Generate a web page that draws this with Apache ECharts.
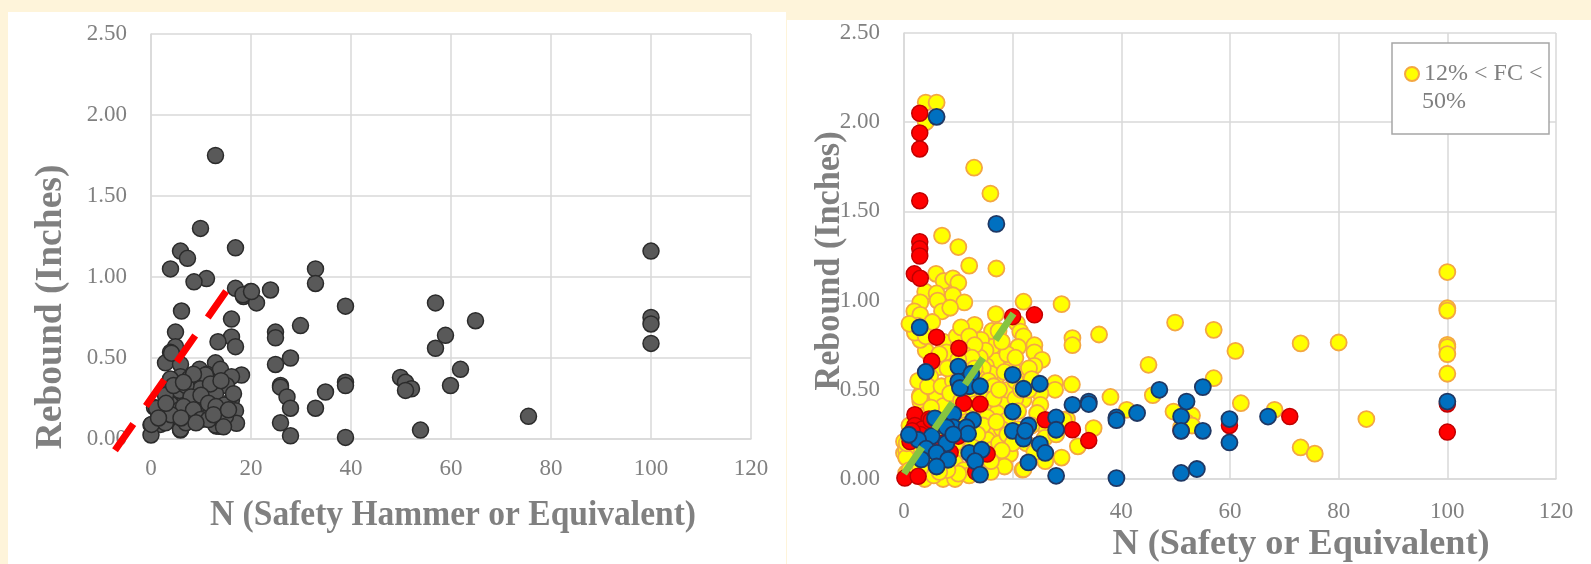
<!DOCTYPE html>
<html>
<head>
<meta charset="utf-8">
<script src="https://cdn.jsdelivr.net/npm/echarts@6/dist/echarts.min.js"></script>
<style>
  html, body { margin: 0; padding: 0; background: #fef4da; }
  #chart { width: 1591px; height: 564px; }
</style>
</head>
<body>
<div id="chart"></div>
<script>
// left chart: all samples [N, rebound]
var allPoints = [
  [100,1.16],[32.9,1.05],[32.9,0.96],[23.9,0.92],[19.9,0.91],[18.5,0.88],[21.1,0.84],[38.9,0.82],
  [56.9,0.84],[64.9,0.73],[58.9,0.64],[56.9,0.56],[100,0.75],[100,0.71],[100,0.59],[29.9,0.70],
  [24.9,0.66],[24.9,0.625],[27.9,0.50],[24.9,0.46],[61.9,0.43],[38.9,0.35],[38.9,0.33],[49.9,0.38],
  [50.9,0.35],[52.1,0.31],[50.9,0.30],[59.9,0.33],[25.9,0.33],[25.9,0.32],[27.2,0.26],[34.9,0.29],
  [27.9,0.19],[32.9,0.19],[25.9,0.10],[27.9,0.02],[38.9,0.01],[53.9,0.055],[75.5,0.14],
  [12.9,1.75],[9.9,1.30],[16.9,1.18],[5.9,1.16],[7.3,1.115],[3.9,1.05],[11.1,0.99],[8.6,0.97],
  [16.9,0.93],[18.4,0.89],[20.1,0.91],[6.1,0.79],[16.1,0.74],[4.9,0.66],[16.1,0.63],[13.4,0.60],
  [16.9,0.57],[4.9,0.57],[3.9,0.535],[2.9,0.47],[5.9,0.46],[12.9,0.47],[9.7,0.43],[11.2,0.40],
  [13.9,0.43],[18.1,0.395],[16.1,0.385],[5.9,0.385],[7.7,0.375],[3.9,0.37],[12.1,0.345],[9.9,0.32],
  [15.1,0.33],[5.7,0.29],[2.9,0.28],[12.9,0.28],[6.9,0.24],[9.9,0.23],[16.1,0.24],[0.7,0.195],
  [3.9,0.216],[5.7,0.18],[2.9,0.17],[8.1,0.14],[10.9,0.15],[16.9,0.175],[14.9,0.13],[0,0.086],
  [1.9,0.09],[2.9,0.107],[13.1,0.08],[13.6,0.078],[17.1,0.097],[5.9,0.055],[0,0.025],
  [10.9,0.395],[4.1,0.53],[9.9,0.31],[14.7,0.21],[9.9,0.22],[1.1,0.19],[7.7,0.14],[14.9,0.14],
  [12.9,0.086],[14.5,0.075],[5.9,0.06],[0.1,0.09],[2.9,0.10],[11.9,0.34],[5.7,0.30],[2.9,0.27],
  [4.5,0.33],[7,0.33],[8,0.26],[10,0.27],[11.5,0.22],[13,0.2],[6.5,0.2],[8.5,0.18],[10,0.12],
  [11.5,0.12],[12.5,0.15],[7,0.1],[9,0.1],[4,0.15],[6,0.13],[15.5,0.18],[16.5,0.28],[14,0.36],
  [8.5,0.4],[6.5,0.35],[3,0.22],[1.5,0.13]
];
var leftTrend = [-7.2, -0.07, 15.1, 0.915];   // x1, y1, x2, y2

// right chart: 12% < FC < 50%
var fcMidPoints = [
  [4,2.11],[6,2.11],[4,2.0],[12.9,1.745],[15.9,1.60],[7,1.364],[10,1.30],[12,1.196],[17,1.18],
  [5.9,1.15],[7.3,1.11],[9.0,1.125],[10.0,1.10],[3.9,1.05],[6.0,1.04],[9.0,1.03],[11.1,0.99],
  [3.0,0.99],[6.2,1.00],[7.0,0.94],[8.5,0.96],[1.9,0.94],[3.0,0.92],[22.0,0.994],[29.0,0.98],
  [16.9,0.924],[13.0,0.864],[20.8,0.873],[21.4,0.826],[16.2,0.83],[17.4,0.83],[22.0,0.80],[9.9,0.80],
  [31.0,0.79],[31.0,0.75],[35.9,0.81],[49.9,0.877],[21.0,0.74],[24.0,0.75],[24.0,0.71],[16.2,0.74],
  [7.3,0.76],[8.6,0.72],[9.9,0.705],[11.0,0.76],[25.4,0.668],[24.0,0.634],[17.0,0.662],[15.1,0.634],
  [11.9,0.65],[45.0,0.64],[19.9,0.63],[22.0,0.575],[17.1,0.575],[16.0,0.59],[6.4,0.627],[4.8,0.575],
  [3.9,0.53],[3.0,0.47],[3.0,0.435],[6.05,0.47],[6.05,0.425],[7.0,0.51],[30.9,0.53],[27.8,0.537],
  [27.8,0.50],[38.0,0.46],[45.8,0.47],[49.6,0.378],[41.0,0.388],[34.9,0.285],[32.0,0.183],[21.8,0.052],
  [25.1,0.48],[25.1,0.416],[22.0,0.444],[19.9,0.48],[18.0,0.453],[15.9,0.416],[18.7,0.43],[14.0,0.388],
  [17.1,0.37],[15.3,0.345],[16.8,0.276],[15.3,0.22],[16.2,0.165],[26.0,0.295],[25.9,0.23],[26.0,0.10],
  [30.0,0.336],[24.5,0.37],[8.2,0.416],[8.9,0.37],[11.5,0.37],[11.5,0.32],[12.6,0.30],[11.0,0.22],
  [10.1,0.17],[9.4,0.09],[7.3,0.07],[4.2,0.034],[2.4,0.02],[0.4,0.034],[0,0.146],[0,0.21],[1.5,0.10],
  [4.8,0.127],[6.05,0.26],[3.9,0.31],[3.9,0.36],
  [57.0,0.836],[61.0,0.718],[57.0,0.565],[62.0,0.425],[53.0,0.356],[51.9,0.32],[29.4,0.33],[22,0.055],
  [100,1.16],[100,0.957],[100,0.944],[100,0.752],[100,0.74],[100,0.70],[100,0.59],[73,0.76],[80,0.765],
  [68.2,0.388],[85.1,0.336],[73,0.177],[75.6,0.142],
  [7.2,0.77],[9.7,0.80],[7.8,0.71],[2.6,0.55],[2.9,0.46],[6.0,0.47],[4.4,0.52],[6.9,0.52],[7.3,0.41],
  [1.7,0.18],[0.4,0.16],[0.4,0.12],[7.2,0],[3.8,0],[9.4,0],[2,0.05],
  [14.2,0.78],[15,0.72],[14,0.68],[14.5,0.62],[13.5,0.57],[15.5,0.55],[13.5,0.50],[15,0.49],[16.5,0.52],
  [51,0.29],[53,0.30],
  [12,0.45],[10.5,0.5],[12.5,0.4],[9,0.55],[10,0.6],[8,0.62],[5,0.68],[4,0.72],[3,0.78],[2,0.82],
  [2.5,0.86],[1,0.87],[5.2,0.88],[4,0.8],[6.5,0.7],[19,0.5],[20.5,0.45],[21,0.38],[19,0.33],[18,0.28],
  [17.5,0.2],[14.5,0.3],[13.5,0.25],[12.5,0.18],[14,0.1],[17,0.12],[19.5,0.14],[18.5,0.07],[5,0.3],
  [8,0.3],[1,0.3],[2,0.25],[0.5,0.2],[1,0.05],[5.5,0.02],[11,0.05],[12,0.02],[16,0.04],[23,0.5],
  [23.5,0.3],[22.5,0.2],[24,0.15],[28,0.25],[29,0.12],
  [10.5,0.85],[12,0.8],[13,0.75],[11,0.7],[12.5,0.68],[10,0.67],[13,0.62],[11.5,0.58],[14.5,0.45],
  [13,0.42],[16.5,0.45],[17.5,0.5],[18.5,0.6],[19,0.7],[18,0.77],[20.5,0.68],[23,0.62],[20.5,0.55],
  [23.5,0.56],[21.5,0.5],[17,0.32],[19,0.25],[21,0.28],[20,0.2],[18,0.16],[16,0.1],[13.5,0.05],
  [10,0.03],[8,0.05],[3,0.06],[6.5,0.04],[3.5,0.2],[5,0.4],[8.5,0.48],[10.5,0.44],[12.5,0.55],
  [11,0.3],[9.5,0.2]
];

// right chart: red group
var redPoints = [
  [2.9,2.05],[2.9,1.94],[2.9,1.85],[2.9,1.56],[2.9,1.33],[2.9,1.29],[2.9,1.25],[1.9,1.15],[3.0,1.125],
  [6.0,0.795],[10.1,0.733],[5.1,0.66],[11.0,0.425],[14.0,0.42],[2.0,0.36],[2.0,0.30],[4.6,0.336],
  [1.1,0.21],[0.16,0.005],[2.6,0.015],[3.4,0.28],[15.3,0.14],[13.2,0.04],[20.0,0.91],[24.0,0.92],
  [26.0,0.332],[31.0,0.276],[34.0,0.216],[59.9,0.30],[51.0,0.27],[71,0.35],[100,0.42],[100,0.263],
  [5,0.33],[7,0.2],[8.5,0.15],[3,0.25],[10,0.24],[12.5,0.13],[1.5,0.27]
];

// right chart: blue group
var bluePoints = [
  [6.0,2.03],[17.0,1.43],[2.9,0.85],[4.0,0.60],[10.0,0.63],[10.0,0.546],[12.4,0.59],[12.0,0.52],
  [14.0,0.52],[10.3,0.51],[9.06,0.364],[5.7,0.34],[12.7,0.33],[9.06,0.29],[11.5,0.29],[11.8,0.254],
  [5.1,0.24],[2.6,0.22],[0.9,0.248],[7.8,0.20],[4.1,0.17],[6.0,0.146],[8.1,0.108],[6.0,0.07],
  [12.0,0.146],[14.3,0.164],[13.1,0.10],[14.0,0.024],[3.2,0.11],[7.8,0.29],[9.06,0.25],
  [20.0,0.584],[22.0,0.506],[25.0,0.534],[20.0,0.378],[20.0,0.27],[22.0,0.226],[22.9,0.30],[22.3,0.27],
  [25.0,0.196],[26.0,0.146],[22.9,0.093],[28.0,0.345],[28.0,0.276],[28.0,0.018],[31.0,0.416],
  [34.0,0.434],[34.0,0.42],[39.1,0.345],[39.1,0.33],[39.1,0.005],[42.9,0.37],[47.0,0.50],[51.0,0.35],
  [51.0,0.27],[52.0,0.434],[51.0,0.034],[53.9,0.056],[55.0,0.515],[55.0,0.27],[59.9,0.336],
  [59.9,0.205],[67.0,0.35],[100,0.434]
];
var rightTrend = [0, 0.03, 20.2, 0.93];   // x1, y1, x2, y2

var chart = echarts.init(document.getElementById('chart'));

var labelColor = '#808080';
var titleColor = '#808080';
var serif = '"Liberation Serif", "DejaVu Serif", serif';

var measure = document.createElement('canvas').getContext('2d');
var fitScale = (text, font, target) => {
  measure.font = font;
  return target / measure.measureText(text).width;
};

var makeX = (grid, margin) => ({
  type: 'value', gridIndex: grid, min: 0, max: 120, interval: 20,
  axisLine: { show: true, lineStyle: { color: '#d9d9d9', width: 1.5 } },
  axisTick: { show: false },
  splitLine: { show: true, lineStyle: { color: '#d9d9d9', width: 1.5 } },
  axisLabel: { color: labelColor, fontFamily: serif, fontSize: 23, margin: margin }
});
var makeY = grid => ({
  type: 'value', gridIndex: grid, min: 0, max: 2.5, interval: 0.5,
  axisLine: { show: true, lineStyle: { color: '#d9d9d9', width: 1.5 } },
  axisTick: { show: false },
  splitLine: { show: true, lineStyle: { color: '#d9d9d9', width: 1.5 } },
  axisLabel: { color: labelColor, fontFamily: serif, fontSize: 23, margin: 24,
    formatter: v => v.toFixed(2) }
});

var titleText = (text, x, y, size, target, vertical) => {
  var font = 'bold ' + size + 'px ' + serif;
  return {
    type: 'text', x: x, y: y, z: 10,
    rotation: vertical ? Math.PI / 2 : 0,
    scaleX: fitScale(text, font, target),
    style: { text: text, font: font, fill: titleColor, align: 'center', verticalAlign: 'middle' }
  };
};

// dashed trend segment, drawn through the axes so it may run past the plot edge
var trendSeries = (grid, values, color) => ({
  type: 'custom', xAxisIndex: grid, yAxisIndex: grid, z: 5, clip: false,
  data: [values],
  encode: { x: [0, 2], y: [1, 3] },
  renderItem: (params, api) => {
    var p1 = api.coord([api.value(0), api.value(1)]);
    var p2 = api.coord([api.value(2), api.value(3)]);
    return {
      type: 'line',
      shape: { x1: p1[0], y1: p1[1], x2: p2[0], y2: p2[1] },
      style: { stroke: color, lineWidth: 7, lineDash: [32, 22], fill: null }
    };
  }
});

var option = {
  backgroundColor: '#fef4da',
  animation: false,
  grid: [
    { left: 151, top: 34, width: 600, height: 405 },
    { left: 904, top: 33, width: 652, height: 446 }
  ],
  xAxis: [makeX(0, 18), makeX(1, 21)],
  yAxis: [makeY(0), makeY(1)],
  legend: {
    data: ['12% < FC < 50%'],
    left: 1399, top: 57, z: 20,
    icon: 'circle', itemWidth: 14, itemHeight: 14, itemGap: 0,
    formatter: () => '12% < FC <',
    textStyle: { color: '#7f7f7f', fontFamily: serif, fontSize: 24 }
  },
  graphic: [
    { type: 'rect', z: -10, silent: true, shape: { x: 8, y: 12, width: 778, height: 552 }, style: { fill: '#ffffff' } },
    { type: 'rect', z: -10, silent: true, shape: { x: 787, y: 20, width: 804, height: 544 }, style: { fill: '#ffffff' } },
    { type: 'rect', z: 1, silent: true, shape: { x: 1392, y: 43, width: 157, height: 91 },
      style: { fill: '#ffffff', stroke: '#a6a6a6', lineWidth: 1.5 } },
    { type: 'text', z: 12, x: 1422, y: 102,
      style: { text: '50%', font: '24px ' + serif, fill: '#7f7f7f', verticalAlign: 'middle' } },
    titleText('Rebound (Inches)', 51, 307, 37, 285, true),
    titleText('N (Safety Hammer or Equivalent)', 453, 516, 36, 486, false),
    titleText('Rebound (Inches)', 830, 261, 35, 259, true),
    titleText('N (Safety or Equivalent)', 1301, 545, 36, 377, false)
  ],
  series: [
    {
      name: 'All samples', type: 'scatter', xAxisIndex: 0, yAxisIndex: 0,
      data: allPoints, symbolSize: 16,
      itemStyle: { color: '#595959', borderColor: '#2b2b2b', borderWidth: 1.5, opacity: 1 }
    },
    trendSeries(0, leftTrend, '#ff0000'),
    {
      name: '12% < FC < 50%', type: 'scatter', xAxisIndex: 1, yAxisIndex: 1,
      data: fcMidPoints, symbolSize: 16,
      itemStyle: { color: '#ffff00', borderColor: '#f4a742', borderWidth: 1.8, opacity: 1 }
    },
    {
      name: 'Red group', type: 'scatter', xAxisIndex: 1, yAxisIndex: 1,
      data: redPoints, symbolSize: 16,
      itemStyle: { color: '#ff0000', borderColor: '#c00000', borderWidth: 1.5, opacity: 1 }
    },
    {
      name: 'Blue group', type: 'scatter', xAxisIndex: 1, yAxisIndex: 1,
      data: bluePoints, symbolSize: 16,
      itemStyle: { color: '#0070c0', borderColor: '#1f3864', borderWidth: 1.8, opacity: 1 }
    },
    trendSeries(1, rightTrend, '#86c440')
  ]
};

chart.setOption(option);
</script>
</body>
</html>
